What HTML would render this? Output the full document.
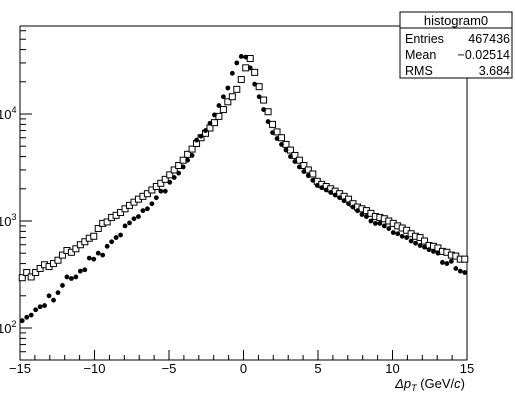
<!DOCTYPE html>
<html><head><meta charset="utf-8"><style>
body{margin:0;background:#fff;width:515px;height:406px;overflow:hidden;font-family:"Liberation Sans",sans-serif}
svg{display:block}
</style></head><body>
<svg id="c" width="515" height="406" font-family="Liberation Sans, sans-serif"></svg>
<script>
const binCenters=[];for(let i=0;i<100;i++)binCenters.push(-14.85+0.3*i);
const squareCounts=[295,330,300,330,360,390,375,400,430,480,530,510,550,600,640,690,720,850,950,980,1080,1130,1200,1300,1400,1500,1600,1700,1800,1950,2100,2250,2450,2700,3000,3300,3700,4200,4700,5300,6000,6600,7400,8300,9500,11000,13000,14500,17000,21000,27000,33000,24500,18000,13500,10500,8000,6800,6000,5200,4600,4100,3700,3300,3000,2750,2350,2200,2100,2000,1900,1800,1700,1600,1450,1350,1300,1250,1180,1100,1080,1050,1000,950,900,860,820,760,720,700,650,590,580,560,520,510,480,470,440,440];
const circleCounts=[117,126,132,148,158,162,200,182,214,250,300,290,300,340,350,450,440,500,480,580,640,700,740,900,960,1050,1100,1250,1300,1450,1650,1900,1900,2300,2550,2800,3200,3700,4100,5700,6200,7000,8200,9800,12000,14500,17500,24000,30000,34500,34000,27000,19000,14500,11000,8500,6700,5900,5200,4600,4000,3600,3200,2900,2650,2400,2150,2050,1950,1850,1750,1650,1550,1450,1350,1250,1150,1100,1000,950,950,900,850,780,760,720,700,650,620,590,570,540,520,500,410,400,420,360,340,330];
const xTicks=[-15,-10,-5,0,5,10,15];
const xTickLabels=["\u221215","\u221210","\u22125","0","5","10","15"];
const yDecades=[2,3,4];
const statsRows=[["Entries","467436"],["Mean","\u22120.02514"],["RMS","3.684"]];

const NS="http://www.w3.org/2000/svg";
const svg=document.getElementById('c');
const L=20,R=467,T=26,B=360;
const xS=v=>L+(v+15)/30*(R-L);
const yS=v=>114-(Math.log10(v)-4)*107;
function mk(tag,attrs,parent){const e=document.createElementNS(NS,tag);for(const k in attrs)e.setAttribute(k,attrs[k]);(parent||svg).appendChild(e);return e;}

const frame=mk('rect',{x:L,y:T,width:R-L,height:B-T,fill:'none',stroke:'#000','stroke-width':1});



for(let v=-15;v<=15;v++){
  const major=v%5===0;
  const t=mk('line',{x1:xS(v),x2:xS(v),y1:B,y2:B-(major?10:5),stroke:'#000'});
  
  
}
xTicks.forEach((v,i)=>{
  const t=mk('text',{x:xS(v),y:373,'font-size':13,'text-anchor':'middle'});
  t.textContent=xTickLabels[i];
  
  
});
for(let d=1;d<=4;d++){
  for(let m=1;m<10;m++){
    const val=m*Math.pow(10,d);const y=yS(val);
    if(y<T||y>B)continue;
    const t=mk('line',{x1:L,x2:L+(m===1?12:6),y1:y,y2:y,stroke:'#000'});
    
    
  }
}
yDecades.forEach(d=>{
  const t=mk('text',{x:-3,y:yS(Math.pow(10,d))+5,'font-size':13});
  t.innerHTML='10<tspan dy="-6" font-size="9">'+d+'</tspan>';
  
  
});
const at=mk('text',{x:465,y:388,'font-size':13,'text-anchor':'end'});
at.innerHTML='<tspan font-style="italic">\u0394p</tspan><tspan font-style="italic" font-size="9" dy="3">T</tspan><tspan dy="-3"> (GeV/</tspan><tspan font-style="italic">c</tspan>)';



binCenters.forEach((x,i)=>{
  const s=mk('rect',{x:xS(x)-3,y:yS(squareCounts[i])-3,width:6,height:6,fill:'#fff',stroke:'#000','stroke-width':1});
  
  
});
binCenters.forEach((x,i)=>{
  const c=mk('circle',{cx:xS(x),cy:yS(circleCounts[i]),r:2.4,fill:'#000'});
  
  
});

const g=mk('g',{});


mk('rect',{x:400,y:12,width:112,height:66,fill:'#fff',stroke:'#000'},g);
mk('line',{x1:400,x2:512,y1:28,y2:28,stroke:'#000'},g);
const h=mk('text',{x:456,y:25,'font-size':13,'text-anchor':'middle'},g);h.textContent='histogram0';
statsRows.forEach((r,i)=>{
  const a=mk('text',{x:405,y:43+i*16,'font-size':12.5},g);a.textContent=r[0];
  const b=mk('text',{x:510,y:43+i*16,'font-size':12.5,'text-anchor':'end'},g);b.textContent=r[1];
});
</script>
</body></html>
